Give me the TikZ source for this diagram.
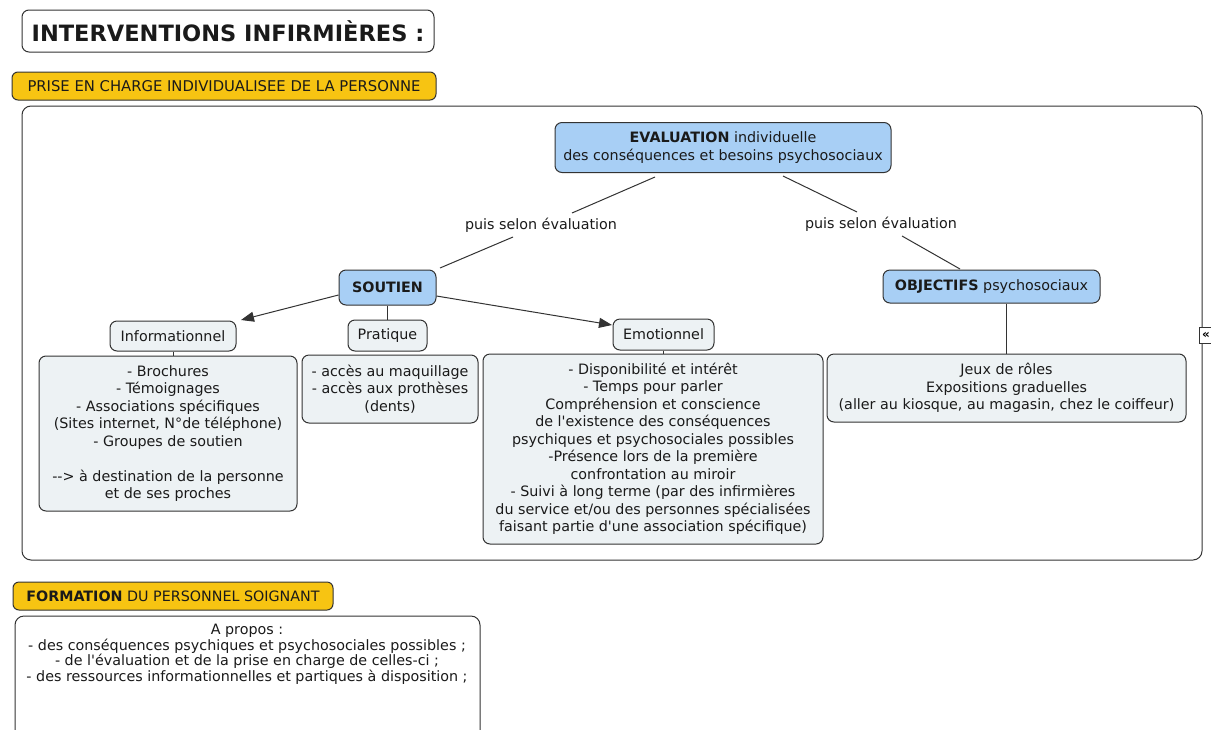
\documentclass[tikz,border=0pt]{standalone}
\usepackage{fontspec}
\setmainfont{DejaVu Sans}
\usetikzlibrary{arrows.meta}
\definecolor{bluefill}{HTML}{A8CFF5}
\definecolor{lightfill}{HTML}{EDF2F4}
\definecolor{orangefill}{HTML}{F7C412}
\definecolor{linec}{HTML}{333333}
\definecolor{textc}{HTML}{1A1A1A}
\newcommand{\q}{\textquotesingle}
\tikzset{
  base/.style={draw=linec, line width=1pt, rounded corners=7pt, align=center, text=textc, inner sep=0pt,
    font=\fontsize{14.3}{17.5}\selectfont},
  bluebox/.style={base, fill=bluefill},
  lightbox/.style={base, fill=lightfill},
  orangebox/.style={base, fill=orangefill, rounded corners=6pt},
  conn/.style={draw=linec, line width=1pt},
  arr/.style={conn, -{Triangle[length=13pt,width=10pt]}},
  lab/.style={align=center, text=textc, inner sep=0pt, font=\fontsize{14.3}{17.5}\selectfont},
}
\begin{document}
\begin{tikzpicture}[x=1pt,y=-1pt]
\useasboundingbox[fill=white] (0,0) rectangle (1211,729);
\clip (0,0) rectangle (1211,729);

% title
\node[base, fill=white, minimum width=412pt, minimum height=42pt, font=\fontsize{22.5}{26}\selectfont\bfseries] (title) at (228,31) {INTERVENTIONS INFIRMIÈRES :};

% section label
\node[orangebox, minimum width=424pt, minimum height=28pt, font=\fontsize{14.8}{17}\selectfont] (prise) at (224,86) {PRISE EN CHARGE INDIVIDUALISEE DE LA PERSONNE};

% container
\draw[draw=linec, line width=1pt, rounded corners=9pt] (22,106) rectangle (1202,560);
\node[draw=linec, fill=white, line width=0.8pt, inner sep=1pt, minimum width=13pt, minimum height=16pt, font=\fontsize{12}{13}\selectfont\bfseries] (collapse) at (1206,335) {«};

% top
\node[bluebox, minimum width=336pt, minimum height=50pt] (eval) at (723,147.5) {\textbf{EVALUATION} individuelle\\des conséquences et besoins psychosociaux};
\node[lab] (labL) at (541,225) {puis selon évaluation};
\node[lab] (labR) at (881,224) {puis selon évaluation};

\node[bluebox, minimum width=97pt, minimum height=35pt] (soutien) at (387.5,287.5) {\textbf{SOUTIEN}};
\node[bluebox, minimum width=217pt, minimum height=33pt] (obj) at (991.5,286.5) {\textbf{OBJECTIFS} psychosociaux};

\draw[conn] (655,177) -- (572,213);
\draw[conn] (513,237) -- (440,268);
\draw[conn] (783,176) -- (857,212);
\draw[conn] (902,236) -- (960,269);

% soutien children
\node[lightbox, minimum width=126pt, minimum height=30pt] (info) at (173,336) {Informationnel};
\node[lightbox, minimum width=79pt, minimum height=31pt] (prat) at (387.5,335.5) {Pratique};
\node[lightbox, minimum width=101pt, minimum height=31pt] (emo) at (663.5,334.5) {Emotionnel};

\draw[arr] (soutien.west |- 0,295) -- (241,320);
\draw[arr] (soutien.east |- 0,296) -- (612,325);
\draw[conn] (soutien.south) -- (prat.north);

% content boxes
\node[lightbox, minimum width=258pt, minimum height=155pt] (infobox) at (168,433.5) {- Brochures\\- Témoignages\\- Associations spécifiques\\(Sites internet, N°de téléphone)\\- Groupes de soutien\\[17.5pt]-{}-{}> à destination de la personne\\et de ses proches};
\node[lightbox, minimum width=176pt, minimum height=68pt] (pratbox) at (390,389) {- accès au maquillage\\- accès aux prothèses\\(dents)};
\node[lightbox, minimum width=340pt, minimum height=190pt] (emobox) at (653,449) {- Disponibilité et intérêt\\- Temps pour parler\\Compréhension et conscience\\de l\q existence des conséquences\\psychiques et psychosociales possibles\\-Présence lors de la première\\confrontation au miroir\\- Suivi à long terme (par des infirmières\\du service et/ou des personnes spécialisées\\faisant partie d\q une association spécifique)};
\node[lightbox, minimum width=359pt, minimum height=68pt] (objbox) at (1006.5,388) {Jeux de rôles\\Expositions graduelles\\(aller au kiosque, au magasin, chez le coiffeur)};

\draw[conn] (info.south) -- (info.south |- infobox.north);
\draw[conn] (emo.south) -- (emo.south |- emobox.north);
\draw[conn] (obj.south -| objbox.north) -- (objbox.north);

% formation
\node[orangebox, minimum width=320pt, minimum height=28pt, font=\fontsize{14.3}{17}\selectfont] (form) at (173,596) {\textbf{FORMATION} DU PERSONNEL SOIGNANT};
\draw[draw=linec, line width=1pt, rounded corners=9pt] (15,760) -- (15,616) -- (480,616) -- (480,760);
\node[lab, anchor=north, font=\fontsize{14.3}{15.5}\selectfont] (formtext) at (247,624) {A propos :\\- des conséquences psychiques et psychosociales possibles ;\\- de l\q évaluation et de la prise en charge de celles-ci ;\\- des ressources informationnelles et partiques à disposition ;};
\end{tikzpicture}
\end{document}
